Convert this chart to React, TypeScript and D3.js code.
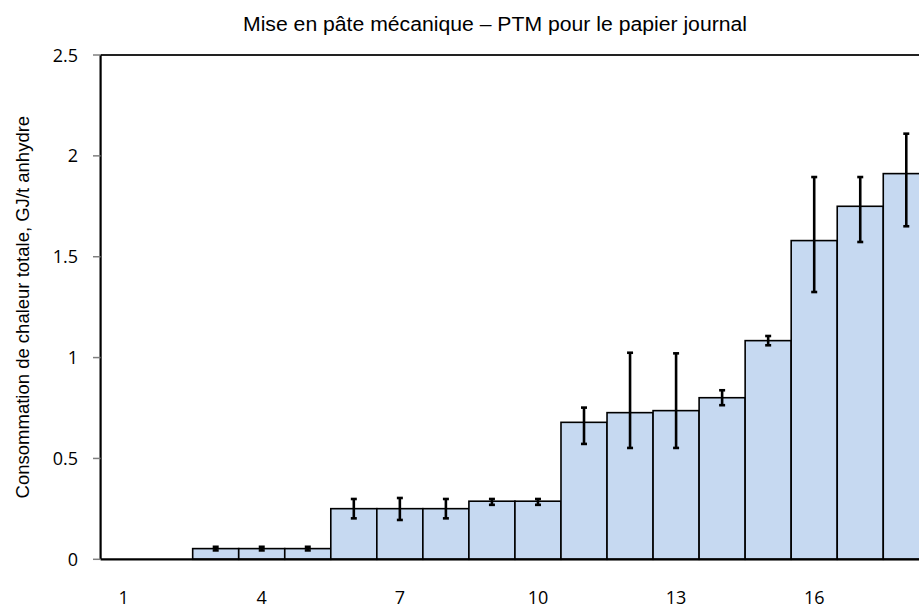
import React, { useEffect, useRef } from "react";
import * as d3 from "d3";

const categories = ["1","2","3","4","5","6","7","8","9","10","11","12","13","14","15","16","17","18"];
const values: (number | null)[] = [null, null, 0.053, 0.053, 0.053, 0.251, 0.251, 0.251, 0.288, 0.288, 0.679, 0.727, 0.737, 0.801, 1.084, 1.58, 1.75, 1.912];
const errHigh: (number | null)[] = [null, null, 0.062, 0.062, 0.062, 0.299, 0.304, 0.299, 0.299, 0.299, 0.752, 1.024, 1.021, 0.838, 1.107, 1.895, 1.895, 2.11];
const errLow: (number | null)[] = [null, null, 0.044, 0.044, 0.044, 0.203, 0.195, 0.203, 0.27, 0.27, 0.572, 0.552, 0.552, 0.764, 1.061, 1.325, 1.573, 1.651];
const xTickLabels = ["1", "4", "7", "10", "13", "16"];
const yTicks = [0, 0.5, 1, 1.5, 2, 2.5];
const title = "Mise en pâte mécanique – PTM pour le papier journal";
const yLabel = "Consommation de chaleur totale, GJ/t anhydre";

export default function App() {
  const ref = useRef<SVGSVGElement>(null);
  useEffect(() => {
    const svg = d3.select(ref.current);
    svg.selectAll("*").remove();
    const W = 919, H = 609;
    const x = d3.scaleBand<string>().domain(categories).range([100.6, 929.3]).padding(0);
    const y = d3.scaleLinear().domain([0, 2.5]).range([559.3, 55]);

    svg.append("rect").attr("width", W).attr("height", H).attr("fill", "#fff");

    // title
    svg.append("text")
      .attr("x", 495).attr("y", 31)
      .attr("text-anchor", "middle")
      .attr("font-family", "'Liberation Sans', Arial, sans-serif")
      .attr("font-size", 20)
      .attr("textLength", 504)
      .attr("lengthAdjust", "spacingAndGlyphs")
      .attr("fill", "#000")
      .text(title);

    // y label
    svg.append("text")
      .attr("transform", `translate(29,${(y(0) + y(2.5)) / 2}) rotate(-90)`)
      .attr("text-anchor", "middle")
      .attr("font-family", "'Liberation Sans', Arial, sans-serif")
      .attr("font-size", 18.5)
      .attr("fill", "#000")
      .text(yLabel);

    // bars
    const data = categories.map((c, i) => ({ c, v: values[i], hi: errHigh[i], lo: errLow[i] }));
    svg.append("g").selectAll("rect")
      .data(data.filter(d => d.v !== null))
      .join("rect")
      .attr("x", d => x(d.c)!)
      .attr("y", d => y(d.v as number))
      .attr("width", x.bandwidth())
      .attr("height", d => y(0) - y(d.v as number))
      .attr("fill", "#c6d9f1")
      .attr("stroke", "#000")
      .attr("stroke-width", 1.6);

    // top frame line
    svg.append("line")
      .attr("x1", x.range()[0]).attr("x2", W)
      .attr("y1", y(2.5)).attr("y2", y(2.5))
      .attr("stroke", "#222").attr("stroke-width", 1.8);

    // baseline
    svg.append("line")
      .attr("x1", x.range()[0]).attr("x2", W)
      .attr("y1", y(0)).attr("y2", y(0))
      .attr("stroke", "#000").attr("stroke-width", 2.2);

    // y axis
    const ya = svg.append("g");
    ya.append("line")
      .attr("x1", x.range()[0]).attr("x2", x.range()[0])
      .attr("y1", y(2.5)).attr("y2", y(0))
      .attr("stroke", "#000").attr("stroke-width", 2.2);
    ya.selectAll("line.tick").data(yTicks).join("line")
      .attr("class", "tick")
      .attr("x1", 93).attr("x2", x.range()[0])
      .attr("y1", d => y(d)).attr("y2", d => y(d))
      .attr("stroke", "#7f7f7f").attr("stroke-width", 1.5);
    ya.selectAll("text").data(yTicks).join("text")
      .attr("x", 78).attr("y", d => y(d) + 6.5)
      .attr("text-anchor", "end")
      .attr("font-family", "'Open Sans', sans-serif")
      .attr("font-size", 18)
      .attr("fill", "#000")
      .text(d => d3.format("")(d));

    // x labels
    svg.append("g").selectAll("text").data(xTickLabels).join("text")
      .attr("x", d => x(d)! + x.bandwidth() / 2)
      .attr("y", 604)
      .attr("text-anchor", "middle")
      .attr("font-family", "'Open Sans', sans-serif")
      .attr("font-size", 18)
      .attr("fill", "#000")
      .text(d => d);

    // error bars
    const eb = svg.append("g").attr("stroke", "#000").attr("stroke-width", 2.6);
    const ed = data.filter(d => d.hi !== null && d.lo !== null);
    const cx = (d: any) => x(d.c)! + x.bandwidth() / 2;
    eb.selectAll("line.v").data(ed).join("line")
      .attr("class", "v")
      .attr("x1", cx).attr("x2", cx)
      .attr("y1", d => y(d.hi as number)).attr("y2", d => y(d.lo as number));
    eb.selectAll("line.h").data(ed).join("line")
      .attr("class", "h")
      .attr("x1", d => cx(d) - 3).attr("x2", d => cx(d) + 3)
      .attr("y1", d => y(d.hi as number)).attr("y2", d => y(d.hi as number));
    eb.selectAll("line.l").data(ed).join("line")
      .attr("class", "l")
      .attr("x1", d => cx(d) - 3).attr("x2", d => cx(d) + 3)
      .attr("y1", d => y(d.lo as number)).attr("y2", d => y(d.lo as number));
  }, []);

  return (
    <svg
      ref={ref}
      width={919}
      height={609}
      style={{ position: "fixed", left: 0, top: 0, display: "block" }}
    />
  );
}
